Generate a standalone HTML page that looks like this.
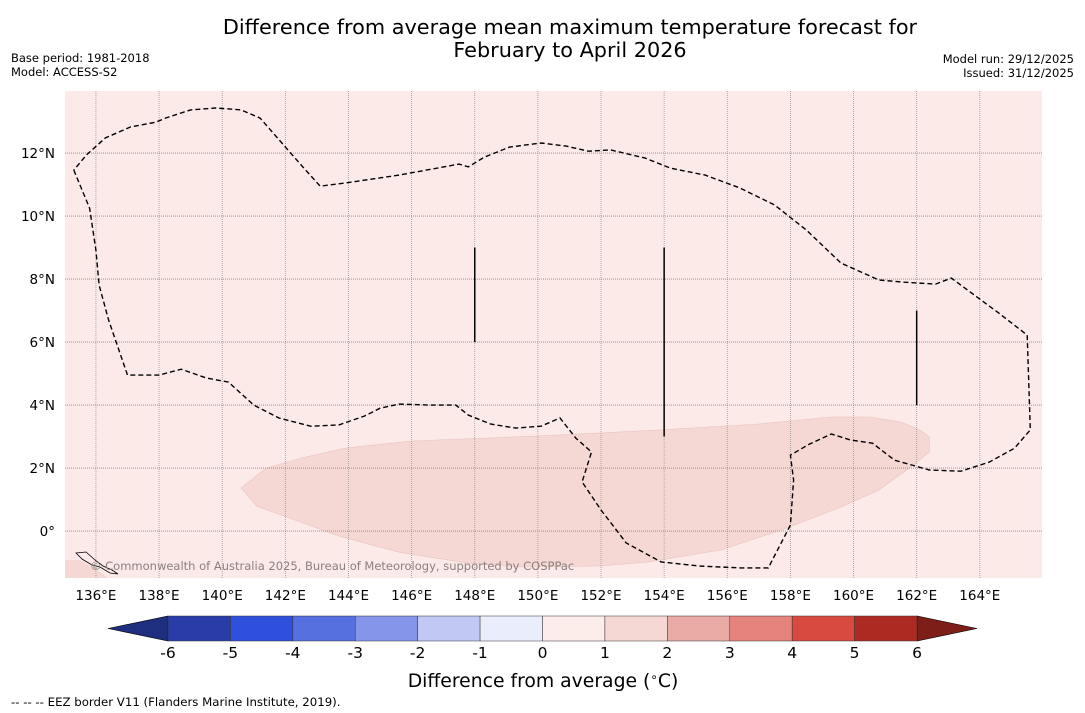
<!DOCTYPE html>
<html><head><meta charset="utf-8">
<style>
body{margin:0;background:#fff;width:1085px;height:713px;overflow:hidden;font-family:"DejaVu Sans","Liberation Sans",sans-serif;}
svg{display:block}
</style></head>
<body>
<svg id="c" width="1085" height="713" xmlns="http://www.w3.org/2000/svg">
<text x="570" y="34" text-anchor="middle" font-size="20.8" fill="#000">Difference from average mean maximum temperature forecast for</text>
<text x="570" y="57" text-anchor="middle" font-size="20.8" fill="#000">February to April 2026</text>
<text x="11" y="62" font-size="11.5">Base period: 1981-2018</text>
<text x="11" y="76" font-size="11.5">Model: ACCESS-S2</text>
<text x="1074" y="63" font-size="11.5" text-anchor="end">Model run: 29/12/2025</text>
<text x="1074" y="77" font-size="11.5" text-anchor="end">Issued: 31/12/2025</text>
<g id="map"></g>
<g id="cbar"></g>
<text x="543" y="687" text-anchor="middle" font-size="18.8">Difference from average (<tspan font-size="12" dy="-6">∘</tspan><tspan dy="6">C)</tspan></text>
<text x="11" y="706" font-size="11.75">--  --  -- EEZ border V11 (Flanders Marine Institute, 2019).</text>
</svg>
<script>
const lonTicks=[136,138,140,142,144,146,148,150,152,154,156,158,160,162,164];
const latTicks=[12,10,8,6,4,2,0];
const anomLon=[140.6,141.4,142.5,143.9,146.0,150.1,153.9,157.0,159.3,160.5,161.5,162.1,162.4,162.4,161.9,160.8,159.6,157.7,155.8,153.5,152.0,149.4,147.8,145.6,143.7,142.3,141.1];
const anomLat=[1.37,2.0,2.32,2.63,2.86,3.02,3.21,3.40,3.62,3.62,3.46,3.21,2.98,2.51,2.10,1.30,0.76,0.03,-0.60,-0.98,-1.11,-1.14,-1.02,-0.67,-0.16,0.35,0.79];
const eezLon=[135.3,135.8,136.0,136.1,136.4,137.0,138.0,138.7,139.5,140.2,141.0,141.8,142.8,143.7,144.5,145.0,145.6,146.6,147.4,147.8,148.5,149.3,150.1,150.7,151.2,151.7,151.4,152.0,152.8,153.9,155.1,156.4,157.3,158.0,158.1,158.0,158.6,159.3,159.9,160.6,161.3,162.4,163.4,164.3,165.1,165.6,165.5,164.6,163.1,162.6,161.6,160.8,159.6,158.5,157.5,156.4,155.3,154.2,153.4,152.3,151.6,150.9,150.1,149.1,148.3,147.8,147.5,145.6,143.9,143.1,142.5,141.2,140.6,139.8,139.0,138.2,137.9,137.1,136.3,135.7,135.3];
const eezLat=[11.46,10.25,8.92,7.81,6.70,4.95,4.95,5.14,4.86,4.73,4.0,3.59,3.33,3.37,3.65,3.90,4.03,4.0,4.0,3.68,3.40,3.27,3.33,3.59,2.95,2.51,1.56,0.67,-0.38,-0.98,-1.11,-1.17,-1.17,0.19,1.62,2.41,2.76,3.08,2.89,2.79,2.25,1.94,1.90,2.19,2.63,3.21,6.22,6.92,8.03,7.84,7.90,7.97,8.51,9.56,10.35,10.89,11.30,11.52,11.84,12.10,12.06,12.22,12.32,12.19,11.87,11.56,11.65,11.30,11.05,10.95,11.62,13.11,13.37,13.43,13.37,13.11,12.98,12.83,12.48,11.94,11.46];
const segLon=[148,154,162];
const segLat0=[9,9,7];
const segLat1=[6,3,4];
const cbValues=[-6,-5,-4,-3,-2,-1,0,1,2,3,4,5,6];
const cbColors=["#2a3ca8","#2f4fdd","#5670e0","#8495ea","#c0c8f3","#eaedfb","#fcecea","#f5d7d4","#eaaba6","#e5837d","#d84a40","#ad2a23"];

const NS="http://www.w3.org/2000/svg";
const X0=65,X1=1042,Y0=91,Y1=578;
const lonMin=135.02,lonMax=165.97,latMax=13.97,latMin=-1.49;
const xs=l=>X0+(l-lonMin)/(lonMax-lonMin)*(X1-X0);
const ys=l=>Y0+(latMax-l)/(latMax-latMin)*(Y1-Y0);
function mk(t,a,p){const e=document.createElementNS(NS,t);for(const k in a)e.setAttribute(k,a[k]);p.appendChild(e);return e;}
const map=document.getElementById('map');
let r=mk('rect',{x:X0,y:Y0,width:X1-X0,height:Y1-Y0,fill:'#fbeae8'},map);


let pts=anomLon.map((l,i)=>xs(l).toFixed(1)+','+ys(anomLat[i]).toFixed(1)).join(' ');
let pg=mk('polygon',{points:pts,fill:'#f5d7d4',stroke:'#e8c4c0','stroke-width':0.6},map);


let cp=mk('path',{d:`M${X0},560 L80,560 Q95,568 108,578 L${X0},578 Z`,fill:'#f5d7d4'},map);


let isl=mk('path',{d:'M76,553 L86,552 L95,560 L103,566 L112,570 L118,574 L110,573 L100,567 L92,565 L82,559 Z',fill:'#fbeae8',stroke:'#000','stroke-width':0.8},map);


lonTicks.forEach(l=>{
  let g=mk('line',{x1:xs(l),x2:xs(l),y1:Y0,y2:Y1,stroke:'#999','stroke-width':0.8,'stroke-dasharray':'1,1'},map);
  
  
  let t=mk('text',{x:xs(l),y:600,'text-anchor':'middle','font-size':13.5},map);t.textContent=l+'°E';
  
  
});
latTicks.forEach(l=>{
  let g=mk('line',{x1:X0,x2:X1,y1:ys(l),y2:ys(l),stroke:'#888','stroke-width':0.8,'stroke-dasharray':'1,1'},map);
  
  
  let t=mk('text',{x:55,y:ys(l)+5,'text-anchor':'end','font-size':13.5},map);t.textContent=l===0?'0°':l+'°N';
  
  
});
let ep=eezLon.map((l,i)=>xs(l).toFixed(1)+','+ys(eezLat[i]).toFixed(1)).join(' ');
let eez=mk('polyline',{points:ep,fill:'none',stroke:'#000','stroke-width':1.4,'stroke-dasharray':'5,3'},map);


segLon.forEach((l,i)=>{
  let s=mk('line',{x1:xs(l),x2:xs(l),y1:ys(segLat0[i]),y2:ys(segLat1[i]),stroke:'#000','stroke-width':1.5},map);
  
  
});
let cr=mk('text',{x:90,y:570,'font-size':11.5,fill:'#8a7f7f'},map);
cr.textContent='© Commonwealth of Australia 2025, Bureau of Meteorology, supported by COSPPac';



const cb=document.getElementById('cbar');
const C0=168,C1=917,CY=616,CH=25;
const cx=v=>C0+(v-cbValues[0])/(cbValues[cbValues.length-1]-cbValues[0])*(C1-C0);
let lt=mk('polygon',{points:`108,${CY+CH/2} ${C0},${CY} ${C0},${CY+CH}`,fill:'#1f2f80',stroke:'#000','stroke-width':0.6},cb);


let rt=mk('polygon',{points:`977,${CY+CH/2} ${C1},${CY} ${C1},${CY+CH}`,fill:'#7d1e18',stroke:'#000','stroke-width':0.6},cb);


cbColors.forEach((c,i)=>{
  let s=mk('rect',{x:cx(cbValues[i]),y:CY,width:cx(cbValues[i+1])-cx(cbValues[i]),height:CH,fill:c,stroke:'#333','stroke-width':0.5},cb);
  
  
});
cbValues.forEach(v=>{
  let t=mk('text',{x:cx(v),y:658,'text-anchor':'middle','font-size':15.5},cb);t.textContent=v;
  
  
});
</script>
</body></html>
